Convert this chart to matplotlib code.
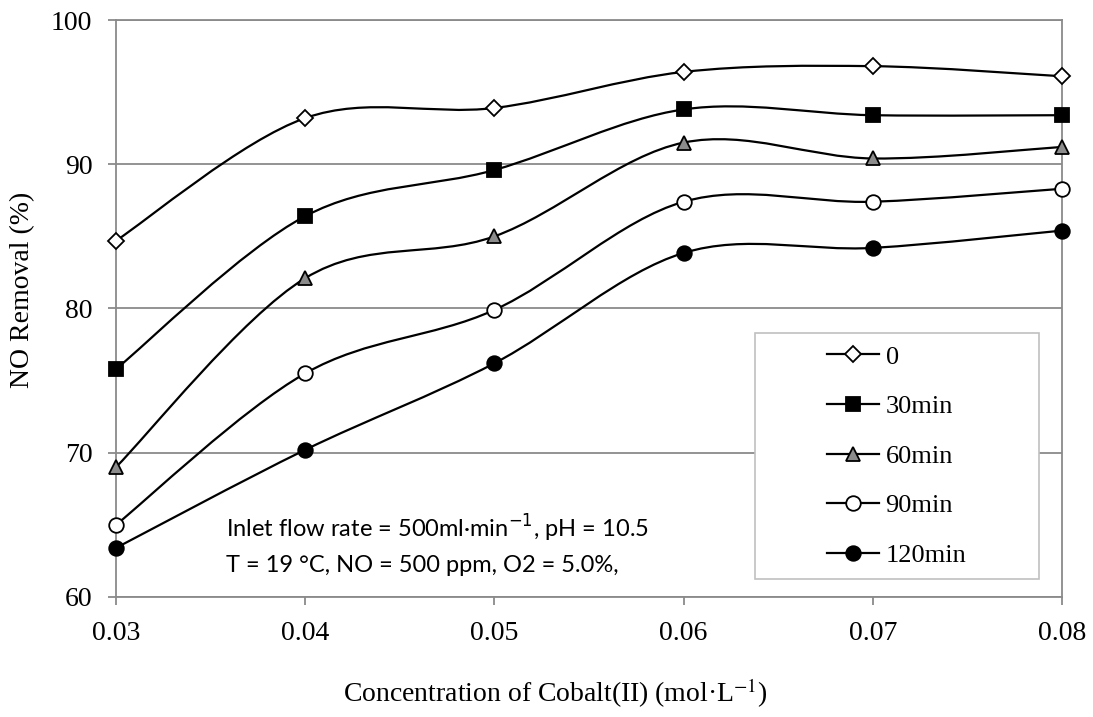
import numpy as np
import matplotlib
matplotlib.use("Agg")
import matplotlib.pyplot as plt
from matplotlib.path import Path
from matplotlib.patches import PathPatch, Rectangle
from matplotlib.lines import Line2D

# data
conc = [0.03, 0.04, 0.05, 0.06, 0.07, 0.08]
labels = ["0", "30min", "60min", "90min", "120min"]
t0 = [84.7, 93.2, 93.9, 96.4, 96.8, 96.1]
t30 = [75.8, 86.4, 89.6, 93.8, 93.4, 93.4]
t60 = [69.0, 82.1, 85.0, 91.5, 90.4, 91.2]
t90 = [65.0, 75.5, 79.9, 87.4, 87.4, 88.3]
t120 = [63.4, 70.2, 76.2, 83.85, 84.2, 85.4]
series = [t0, t30, t60, t90, t120]

styles = [
    dict(marker="D", ms=8.5, mfc="white"),
    dict(marker="s", ms=10, mfc="black"),
    dict(marker="^", ms=10.5, mfc="#8c8c8c"),
    dict(marker="o", ms=10.5, mfc="white"),
    dict(marker="o", ms=10.5, mfc="black"),
]

grid_c = "#8a8a8a"
serif = ["Liberation Serif", "DejaVu Serif"]
sans = ["Lato", "DejaVu Sans"]


def smooth_path(x, y):
    # Excel-like smoothed line: cubic bezier with catmull-rom control points
    pts = np.column_stack([x, y])
    p = np.vstack([pts[0], pts, pts[-1]])
    verts = [pts[0]]
    codes = [Path.MOVETO]
    for i in range(1, len(p) - 2):
        c1 = p[i] + (p[i + 1] - p[i - 1]) / 6.0
        c2 = p[i + 1] - (p[i + 2] - p[i]) / 6.0
        verts += [c1, c2, p[i + 1]]
        codes += [Path.CURVE4] * 3
    return Path(verts, codes)


fig = plt.figure(figsize=(10.93, 7.17), dpi=100)
ax = fig.add_axes([0.1061, 0.1674, 0.8655, 0.8047])

for ys, st in zip(series, styles):
    patch = PathPatch(smooth_path(conc, ys), fill=False, lw=1.6, ec="black",
                      zorder=3, clip_on=False)
    ax.add_patch(patch)
    ax.plot(conc, ys, ls="none", marker=st["marker"], ms=st["ms"],
            mfc=st["mfc"], mec="black", mew=1.3, zorder=4, clip_on=False)

ax.set_xlim(0.03, 0.08)
ax.set_ylim(60, 100)
ax.set_xticks(conc)
ax.set_xticklabels([f"{c:.2f}" for c in conc])
ax.set_yticks([60, 70, 80, 90, 100])
ax.yaxis.grid(True, color=grid_c, lw=1.3)
ax.set_axisbelow(True)
for s in ax.spines.values():
    s.set_color(grid_c)
    s.set_linewidth(1.3)
ax.tick_params(axis="both", direction="out", color=grid_c, width=1.3,
               length=6, labelsize=20)
ax.tick_params(axis="x", pad=11)
ax.tick_params(axis="y", pad=11)
for lab in ax.get_xticklabels() + ax.get_yticklabels():
    lab.set_family(serif)

fig.text(0.0206, 0.5955, "NO Removal (%)", fontsize=20, family=serif,
         rotation=90, ha="center", va="center")
fig.text(0.508, 0.021, "Concentration of Cobalt(II) (mol\u00b7L$^{-1}$)",
         fontsize=20, family=serif, ha="center", va="baseline",
         math_fontfamily="stix")

ax.text(0.03584, 64.14, "Inlet flow rate = 500ml\u00b7min$^{-1}$, pH = 10.5",
        fontsize=17, family=sans, va="baseline")
ax.text(0.03584, 61.7, "T = 19 \u00b0C, NO = 500 ppm, O2 = 5.0%,",
        fontsize=17, family=sans, va="baseline")

# legend frame (larger than the entries, as in the original)
frame = Rectangle((0.6908, 0.1925), 0.2598, 0.3431, transform=fig.transFigure,
                  fc="white", ec="#c0c0c0", lw=1.2, zorder=5)
fig.patches.append(frame)

handles = [Line2D([0], [0], color="black", lw=1.6, marker=st["marker"],
                  ms=st["ms"], mfc=st["mfc"], mec="black", mew=1.3)
           for st in styles]
leg = fig.legend(handles, labels, loc="center left",
                 bbox_to_anchor=(827 / 1093, 1 - 456 / 717),
                 prop={"family": serif, "size": 19}, frameon=False,
                 handlelength=1.97, labelspacing=0.99, borderpad=0,
                 handletextpad=0.25, borderaxespad=0)
leg.set_zorder(6)

fig.savefig("out.png", dpi=100)
